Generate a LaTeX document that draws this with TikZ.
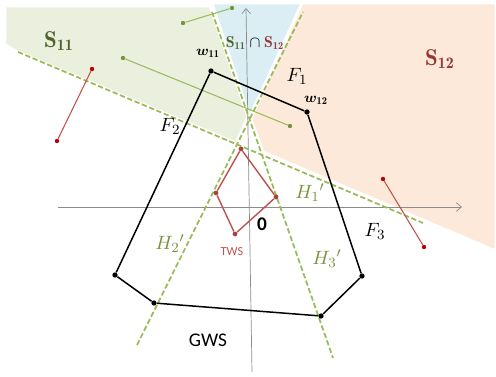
\documentclass[tikz,border=0pt]{standalone}
\usepackage{amsmath,amssymb}
\usepackage{bm}
\usepackage{fontspec}
\setsansfont{Carlito}
\usepackage{xcolor}
\usepackage{tikz}
\usetikzlibrary{arrows.meta,positioning,calc}

\definecolor{regGreen}{RGB}{235,240,222}
\definecolor{regPeach}{RGB}{253,233,217}
\definecolor{regBlue}{RGB}{218,238,243}
\definecolor{hGreen}{RGB}{155,187,89}
\definecolor{hText}{RGB}{119,147,60}
\definecolor{darkGreen}{RGB}{79,98,40}
\definecolor{darkRed}{RGB}{149,55,53}
\definecolor{twsRed}{RGB}{192,80,77}

\begin{document}
\begin{tikzpicture}[
  x=0.02cm, y=-0.02cm,
  region/.style={draw=white, line width=1.6pt, line join=round},
  hline/.style={hGreen, line width=1pt, dash pattern=on 3pt off 1.5pt},
  axis/.style={black!45, line width=0.4pt, -{Straight Barb[length=3pt,width=5pt]}},
  vtx/.style={circle, fill=black, inner sep=0pt, minimum size=3pt},
  rdot/.style={circle, fill=red!75!black, inner sep=0pt, minimum size=2.5pt},
  gdot/.style={circle, fill=hText, inner sep=0pt, minimum size=2.5pt},
  tdot/.style={circle, fill=twsRed!85!black, inner sep=0pt, minimum size=2.7pt},
  flabel/.style={font=\fontsize{11}{13}\selectfont},
  hlabel/.style={font=\fontsize{11}{13}\selectfont, text=hText},
  slabel/.style={font=\fontsize{13}{15}\selectfont}
]
  \useasboundingbox (0,0) rectangle (496,377);

  % regions
  \fill[regGreen, region] (5,6) -- (210,6) -- (248,117) -- (236,143) -- (18,52) -- (5,45) -- cycle;
  \fill[regBlue, region] (212,3) -- (302,3) -- (249.5,117) -- cycle;
  \fill[regPeach, region] (302,3) -- (496,3) -- (496,251) -- (263,152) -- (251,119) -- cycle;

  % axes
  \coordinate (xs) at (58,207);
  \coordinate (xe) at (462,207);
  \coordinate (ys) at (252,372);
  \coordinate (ye) at (246,8);
  \draw[axis] (xs) -- (xe);
  \draw[axis] (ys) -- (ye);

  % hyperplanes
  \coordinate (h1a) at (18,52);
  \coordinate (h1b) at (423,223);
  \coordinate (h2a) at (137,345);
  \coordinate (h2b) at (303,12);
  \coordinate (h3a) at (212,12);
  \coordinate (h3b) at (333,358);
  \draw[hline] (h1a) -- (h1b);
  \draw[hline] (h2a) -- (h2b);
  \draw[hline] (h3a) -- (h3b);

  % segments
  \node[gdot] (ga) at (183,23) {};
  \node[gdot] (gb) at (232,8) {};
  \node[gdot] (gc) at (123,58) {};
  \node[gdot] (gd) at (290,126) {};
  \node[rdot] (ra) at (92,69) {};
  \node[rdot] (rb) at (57,141) {};
  \node[rdot] (rc) at (383,179) {};
  \node[rdot] (rd) at (424,247) {};
  \draw[hGreen, line width=0.6pt] (ga) -- (gb);
  \draw[hGreen, line width=0.6pt] (gc) -- (gd);
  \draw[twsRed, line width=0.6pt] (ra) -- (rb);
  \draw[twsRed, line width=0.6pt] (rc) -- (rd);

  % GWS
  \node[vtx] (w11) at (211,71) {};
  \node[vtx] (w12) at (307,112) {};
  \node[vtx] (g3) at (362,276) {};
  \node[vtx] (g4) at (321,316) {};
  \node[vtx] (g5) at (154,303) {};
  \node[vtx] (g6) at (115,275) {};
  \draw[line width=0.85pt] (w11) -- (w12) -- (g3) -- (g4) -- (g5) -- (g6) -- (w11);

  % TWS
  \node[tdot] (t1) at (241,149) {};
  \node[tdot] (t2) at (276,197) {};
  \node[tdot] (t3) at (235,234) {};
  \node[tdot] (t4) at (216,193) {};
  \draw[twsRed, line width=0.8pt] (t1) -- (t2) -- (t3) -- (t4) -- (t1);

  % labels
  \node[font=\fontsize{8.5}{10}\selectfont] (lw11) at (208,53) {$\bm{w}_{\mathbf{11}}$};
  \node[font=\fontsize{8.5}{10}\selectfont] (lw12) at (316,100) {$\bm{w}_{\mathbf{12}}$};
  \node[flabel] (lf1) at (297,76) {$F_1$};
  \node[flabel] (lf2) at (170,126) {$F_2$};
  \node[flabel] (lf3) at (375,231) {$F_3$};
  \node[hlabel] (lh1) at (310,193) {$H_1{}'$};
  \node[hlabel] (lh2) at (170,244) {$H_2{}'$};
  \node[hlabel] (lh3) at (327,259) {$H_3{}'$};
  \node[font=\sffamily\bfseries\fontsize{11}{13}\selectfont] (lzero) at (262,224) {0};
  \node[font=\sffamily\fontsize{7}{8}\selectfont, text=twsRed] (ltws) at (232,252) {TWS};
  \node[font=\sffamily\fontsize{11}{13}\selectfont] (lgws) at (208,340) {GWS};
  \node[slabel, text=darkGreen] (ls11) at (59,41) {$\mathbf{S}_{\mathbf{11}}$};
  \node[slabel, text=darkRed] (ls12) at (440,59) {$\mathbf{S}_{\mathbf{12}}$};
  \node[font=\fontsize{9}{11}\selectfont] (lcap) at (255,43) {$\color{darkGreen}\mathbf{S}_{\mathbf{11}}\color{black}\cap\color{darkRed}\mathbf{S}_{\mathbf{12}}$};
\end{tikzpicture}
\end{document}
